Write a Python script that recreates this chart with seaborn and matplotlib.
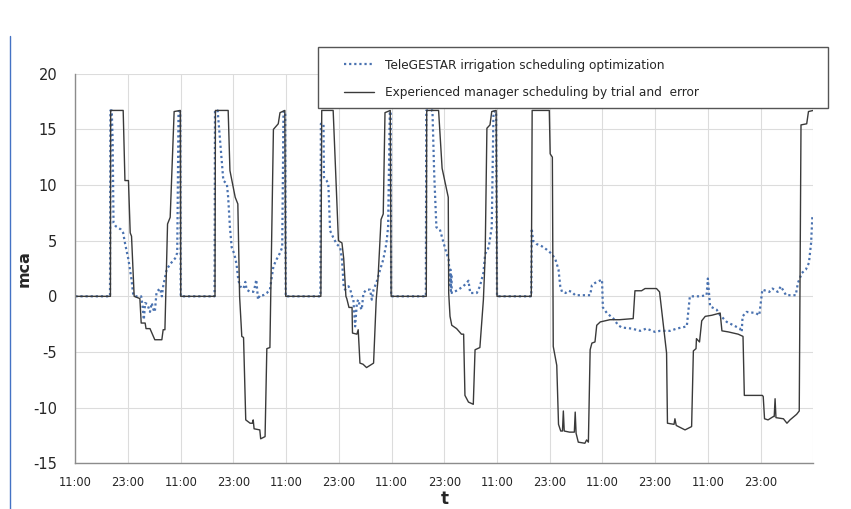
import numpy as np
import pandas as pd
import matplotlib
matplotlib.use("Agg")
import matplotlib.pyplot as plt
from matplotlib.lines import Line2D
from matplotlib.patches import Rectangle
import seaborn as sns

# hours from the first 11:00 tick, pressure in mca
manager_h = [0, 8, 8.05, 10.9, 11.3, 12.1, 12.5, 12.8, 13.4, 14.7, 15, 15.9, 16.1, 17, 18.1, 19.7, 20, 20.4, 21, 21.6, 22.5, 23.9, 24,
             31.8, 31.9, 34.8, 35.2, 36.4, 37, 37.4, 37.9, 38.3, 38.8, 39.8, 40.3, 40.5, 40.7, 42, 42.2, 43.2, 43.6, 44.3, 45.1, 46.2, 46.6, 47.7, 47.9,
             55.9, 56.1, 58.7, 59.4, 59.9, 60.7, 61.1, 61.6, 61.8, 62.3, 63.0, 63.1, 64.1, 64.4, 64.8, 65.5, 66.3, 67.1, 67.9, 68.5, 68.9, 69.6, 70.1, 70.5, 71.7, 71.9,
             79.9, 80, 82.7, 83.5, 84.3, 84.9, 85.0, 85.3, 85.7, 86.8, 87.9, 88.4, 88.7, 89.5, 90.6, 91, 92.1, 92.9, 93.3, 93.7, 94.4, 94.8, 95.8, 96,
             103.8, 104, 107.9, 108.1, 108.6, 108.8, 109.6, 110.0, 110.5, 110.9, 111.1, 111.3, 112.5, 113.6, 113.8, 114.0, 114.5, 116, 116.4, 116.8,
             117.2, 117.6, 118.3, 118.7, 119.5, 121.7, 123.9, 127, 127.4, 128.9, 129.7, 132.3, 133, 134.6, 134.8, 136.3, 136.5, 136.8, 138.8, 140.3,
             140.7, 141.3, 141.4, 142.1, 142.6, 143.4, 144.9, 146.8, 147.2, 148.7, 150.9, 152, 152.3, 154.4, 156.4, 156.6, 156.9, 157.7, 158.9, 159.1,
             159.3, 159.5, 161.2, 162, 162.7, 164.2, 164.8, 165.2, 166.5, 166.9, 168]
manager_v = [0, 0, 16.7, 16.7, 10.4, 10.4, 5.7, 5.4, 0, -0.2, -2.4, -2.4, -2.9, -2.9, -3.9, -3.9, -3.0, -3.0, 6.5, 7.1, 16.6, 16.7, 0,
             0, 16.7, 16.7, 11.3, 8.9, 8.3, 0, -3.6, -3.7, -11.1, -11.4, -11.4, -11.1, -11.9, -12.0, -12.8, -12.6, -4.7, -4.6, 15.0, 15.5, 16.5, 16.7, 0,
             0, 16.7, 16.7, 10.0, 5.0, 4.8, 3.4, 0, -0.2, -1.0, -1.0, -3.3, -3.4, -3.0, -6.0, -6.1, -6.4, -6.2, -6.0, -0.3, 1.5, 6.9, 7.4, 16.5, 16.7, 0,
             0, 16.7, 16.7, 11.5, 10.0, 8.9, 0.3, -1.8, -2.6, -2.9, -3.4, -3.4, -8.9, -9.5, -9.7, -4.8, -4.6, -0.3, 3.6, 15.1, 15.4, 16.6, 16.7, 0,
             0, 16.7, 16.7, 12.8, 12.5, -4.5, -6.2, -11.5, -12.1, -12.1, -10.3, -12.1, -12.2, -12.2, -10.4, -12.3, -13.1, -13.2, -12.9, -13.1,
             -4.8, -4.2, -4.1, -2.6, -2.3, -2.1, -2.1, -2.0, 0.5, 0.5, 0.7, 0.7, 0.4, -5.1, -11.4, -11.5, -11.0, -11.6, -12.0, -11.7,
             -4.9, -4.7, -3.8, -4.1, -2.2, -1.8, -1.7, -1.5, -3.1, -3.2, -3.4, -3.6, -8.9, -8.9, -8.9, -9.0, -11.0, -11.1, -10.8, -10.8,
             -9.2, -10.9, -11.0, -11.4, -11.1, -10.6, -10.3, 15.4, 15.5, 16.6, 16.7]

telegestar_h = [0, 7.9, 8, 8.3, 8.5, 8.7, 9.2, 10.4, 10.9, 11.3, 12.1, 12.8, 13.2, 13.9, 15, 15.3, 15.6, 15.9, 16.4, 17, 17.4, 17.8, 18.1, 18.5,
                19.3, 19.7, 20, 20.8, 21.6, 22.7, 23.2, 23.5, 23.9, 24,
                31.7, 31.8, 32.4, 33.7, 34.5, 34.8, 35.2, 35.6, 36.2, 36.7, 37.1, 37.5, 38.3, 38.7, 39, 39.8, 40.5, 40.9, 41.2, 41.6, 42, 42.8,
                43.6, 44.3, 45.1, 45.8, 46.6, 47.1, 47.4, 47.8, 47.9,
                55.8, 55.9, 56.5, 56.6, 57.2, 57.6, 58, 58.7, 59.5, 60.3, 60.7, 61.1, 61.4, 62.2, 62.6, 63, 63.3, 63.7, 64.1, 64.4, 64.8, 65.2,
                65.6, 66.3, 67.1, 67.5, 67.9, 68.6, 69.4, 70.1, 70.8, 71.2, 71.6, 71.8, 71.9,
                79.8, 79.9, 81.3, 81.7, 82.2, 83, 83.7, 84.4, 85, 85.3, 85.4, 85.5, 85.6, 85.7, 86.5, 87.2, 88.3, 89.1, 89.5, 89.9, 91.4, 92.1,
                92.5, 92.9, 93.3, 94.1, 94.8, 95.2, 95.8, 96,
                103.8, 103.9, 104.2, 105, 106.2, 107.3, 108.5, 109.3, 110, 110.4, 110.8, 111.6, 112.3, 113, 113.8, 117.2, 117.6, 118.3, 119.9,
                120.1, 121, 122.5, 123.6, 124.4, 126.7, 128.6, 130, 132, 133.1, 135.4, 136.9, 139.2, 139.9, 142.2, 143.7, 144, 144.5, 146,
                146.8, 148.3, 151.3, 151.7, 151.9, 152.8, 154.9, 155.7, 156.4, 158, 158.7, 159.9, 160.6, 161.8, 164, 164.5, 165.4, 166.3,
                167, 167.5, 167.8]
telegestar_v = [0, 0, 16.7, 16.7, 14.0, 6.6, 6.3, 6.0, 5.7, 4.8, 3.3, 1.5, 0.1, 0, 0, -0.8, -2.1, -0.6, -0.7, -1.4, -0.6, -1.2, -1.4, 0.4,
                0.7, 0, 0.9, 2.4, 2.9, 3.4, 3.9, 16.6, 16.6, 0,
                0, 16.7, 16.7, 10.4, 10.1, 8.9, 6.2, 4.4, 3.8, 2.9, 1.5, 0.9, 0.7, 1.3, 0.6, 0.4, 0.4, 0.9, 1.5, -0.3, 0.1, 0.1,
                0.3, 0.6, 2.7, 3.3, 3.9, 4.4, 16.6, 16.6, 0,
                0, 15.5, 15.5, 10.7, 10.4, 10.1, 5.9, 5.3, 4.7, 4.4, 3.3, 0.9, 0.6, 0.9, 0.6, 0, -0.3, -2.7, -0.6, -0.3, -0.9, -1.2,
                0.3, 0.6, 0.6, -0.3, 0.6, 1.3, 2.4, 3.3, 4.7, 6.2, 16.6, 16.6, 0,
                0, 16.7, 16.7, 11.0, 6.2, 6.0, 5.0, 4.0, 3.3, 1.0, 2.4, 0.5, 2.0, 0.3, 0.45, 0.6, 0.9, 1.2, 1.4, 0.3, 0.3, 0.9,
                1.5, 2.1, 3.8, 4.4, 6.2, 16.6, 16.6, 0,
                0, 6.1, 5.0, 4.7, 4.5, 4.2, 3.8, 3.3, 2.4, 0.9, 0.4, 0.3, 0.5, 0.4, 0.1, 0.1, 1.0, 1.2, 1.5,
                -1.0, -1.5, -2.0, -2.6, -2.8, -2.9, -3.1, -2.9, -3.2, -3.1, -3.1, -2.9, -2.7, 0, 0, 0.1, 1.6, -0.9, -1.2,
                -1.7, -2.3, -2.9, -3.2, -1.8, -1.4, -1.5, -1.7, 0.6, 0.4, 0.7, 0.4, 0.9, 0.1, 0.1, 1.2, 2.1, 2.4,
                3.0, 4.8, 7.3]

tick_hours = list(range(0, 169, 12))
tick_labels = ["11:00", "23:00"] * 7 + [""]

sns.set_style("white")
plt.rcParams["font.family"] = ["DejaVu Sans"]
plt.rcParams["axes.unicode_minus"] = False

fig = plt.figure(figsize=(8.51, 5.09), dpi=100)
W, H = 851, 509
ax = fig.add_axes([75.3 / W, (H - 463.3) / H, (813.3 - 75.3) / W, (463.3 - 73.7) / H])

tele = pd.DataFrame({"t": telegestar_h, "mca": telegestar_v})
man = pd.DataFrame({"t": manager_h, "mca": manager_v})

sns.lineplot(data=tele, x="t", y="mca", ax=ax, estimator=None, sort=False,
             color="#4a72b0", lw=1.6, linestyle=(0, (1, 1.3)),
             label="TeleGESTAR irrigation scheduling optimization")
sns.lineplot(data=man, x="t", y="mca", ax=ax, estimator=None, sort=False,
             color="#3a3a3a", lw=1.0,
             label="Experienced manager scheduling by trial and  error")

ax.set_xlim(0, 168)
ax.set_ylim(-15, 20)
ax.set_xticks(tick_hours)
ax.set_xticklabels(tick_labels, fontsize=8.3)
ax.set_yticks(range(-15, 21, 5))
ax.tick_params(axis="y", labelsize=10.5, length=5, color="#d4d4d4", pad=8)
ax.tick_params(axis="x", length=0, pad=9)
ax.grid(True, color="#dcdcdc", lw=0.8)
for s in ["top", "right"]:
    ax.spines[s].set_visible(False)
for s in ["left", "bottom"]:
    ax.spines[s].set_color("#8c8c8c")
    ax.spines[s].set_linewidth(1)

ax.set_ylabel("mca", fontsize=11.5, fontweight="bold", labelpad=1)
ax.set_xlabel("t", fontsize=12, fontweight="bold", labelpad=1)

handles, labels = ax.get_legend_handles_labels()
ax.get_legend().remove()
fig.add_artist(Rectangle((318 / W, 1 - 108 / H), 510 / W, 61 / H, transform=fig.transFigure,
                         facecolor="white", edgecolor="#555555", lw=1, zorder=4))
leg = fig.legend(handles, labels, loc="upper left", bbox_to_anchor=(344 / W, 1 - 58.5 / H),
                 bbox_transform=fig.transFigure, borderaxespad=0, borderpad=0,
                 fontsize=8.7, frameon=False, handlelength=2.5, handletextpad=0.9,
                 labelspacing=1.2)
leg.set_zorder(5)

fig.add_artist(Line2D([10 / W, 10 / W], [0, 1 - 36 / H], transform=fig.transFigure,
                      color="#4472c4", lw=1))

fig.savefig("out.png", dpi=100)
